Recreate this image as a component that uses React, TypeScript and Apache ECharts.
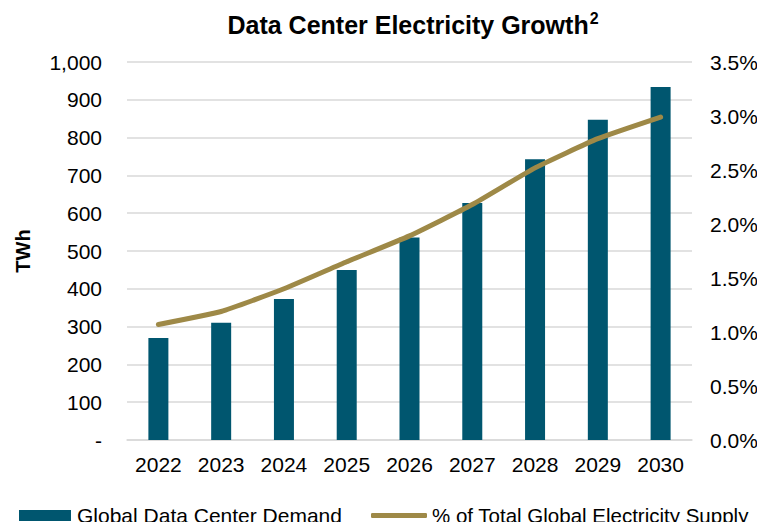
import React, { useEffect, useRef } from "react";
import * as echarts from "echarts";

// Years on the category axis
const years = ["2022", "2023", "2024", "2025", "2026", "2027", "2028", "2029", "2030"];
// Global data center demand, TWh
const demandTWh = [270, 310, 373, 450, 536, 627, 743, 847, 934];
// Data center share of total global electricity supply, %
const sharePct = [1.07, 1.19, 1.4, 1.65, 1.89, 2.18, 2.52, 2.79, 2.99];

const barName = "Global Data Center Demand";
const lineName = "% of Total Global Electricity Supply";

const FONT = "'Liberation Sans', Arial, Helvetica, sans-serif";
const BAR_COLOR = "#00566F";
const LINE_COLOR = "#9E8947";
const GRID_COLOR = "#D9D9D9";

export default function App() {
  const ref = useRef<HTMLDivElement>(null);

  useEffect(() => {
    if (!ref.current) return;
    const chart = echarts.init(ref.current, undefined, { renderer: "svg" });
    chart.setOption({
      animation: false,
      backgroundColor: "#ffffff",
      textStyle: { fontFamily: FONT },
      title: {
        text: "{t|Data Center Electricity Growth}{s|2}",
        left: 408,
        top: 5,
        textAlign: "center",
        textStyle: {
          rich: {
            t: { fontFamily: FONT, fontSize: 25, fontWeight: "bold", color: "#000", lineHeight: 30 },
            s: { fontFamily: FONT, fontSize: 16, fontWeight: "bold", color: "#000", verticalAlign: "top", lineHeight: 30, padding: [0, 0, 10, 1] },
          },
        },
      },
      legend: [
        {
          data: [barName],
          left: 19,
          top: 505,
          padding: 0,
          itemWidth: 52,
          itemHeight: 11,
          icon: "rect",
          textStyle: { fontFamily: FONT, fontSize: 21, color: "#000", padding: [0, 0, 0, 1] },
        },
        {
          data: [lineName],
          left: 371,
          top: 505,
          padding: 0,
          itemWidth: 56,
          itemHeight: 5,
          icon: "roundRect",
          itemStyle: { color: LINE_COLOR, borderRadius: 3 },
          textStyle: { fontFamily: FONT, fontSize: 20.5, color: "#000", padding: [0, 0, 0, 0] },
        },
      ],
      grid: { left: 127, right: 73, top: 62, bottom: 90, containLabel: false },
      xAxis: {
        type: "category",
        data: years,
        axisLine: { show: true, lineStyle: { color: GRID_COLOR, width: 1.5 } },
        axisTick: { show: false },
        axisLabel: { fontFamily: FONT, fontSize: 21, color: "#000", margin: 14 },
      },
      yAxis: [
        {
          type: "value",
          min: 0,
          max: 1000,
          interval: 100,
          name: "TWh",
          nameLocation: "middle",
          nameRotate: 90,
          nameGap: 94,
          nameTextStyle: { fontFamily: FONT, fontSize: 20, fontWeight: "bold", color: "#000" },
          axisLine: { show: false },
          axisTick: { show: false },
          splitLine: { show: true, lineStyle: { color: GRID_COLOR, width: 1.5 } },
          axisLabel: {
            fontFamily: FONT,
            fontSize: 21,
            color: "#000",
            margin: 25,
            formatter: (v: number) => (v === 0 ? "-" : v.toLocaleString("en-US")),
          },
        },
        {
          type: "value",
          min: 0,
          max: 3.5,
          interval: 0.5,
          position: "right",
          axisLine: { show: false },
          axisTick: { show: false },
          splitLine: { show: false },
          axisLabel: {
            fontFamily: FONT,
            fontSize: 21,
            color: "#000",
            margin: 18,
            formatter: (v: number) => v.toFixed(1) + "%",
          },
        },
      ],
      series: [
        {
          name: barName,
          type: "bar",
          data: demandTWh,
          yAxisIndex: 0,
          barWidth: 20,
          itemStyle: { color: BAR_COLOR },
        },
        {
          name: lineName,
          type: "line",
          data: sharePct,
          yAxisIndex: 1,
          smooth: 0.15,
          showSymbol: false,
          symbol: "none",
          lineStyle: { color: LINE_COLOR, width: 5, cap: "round", join: "round" },
          itemStyle: { color: LINE_COLOR },
        },
      ],
    });
    return () => chart.dispose();
  }, []);

  return <div ref={ref} style={{ width: 765, height: 530, margin: -8 }} />;
}
